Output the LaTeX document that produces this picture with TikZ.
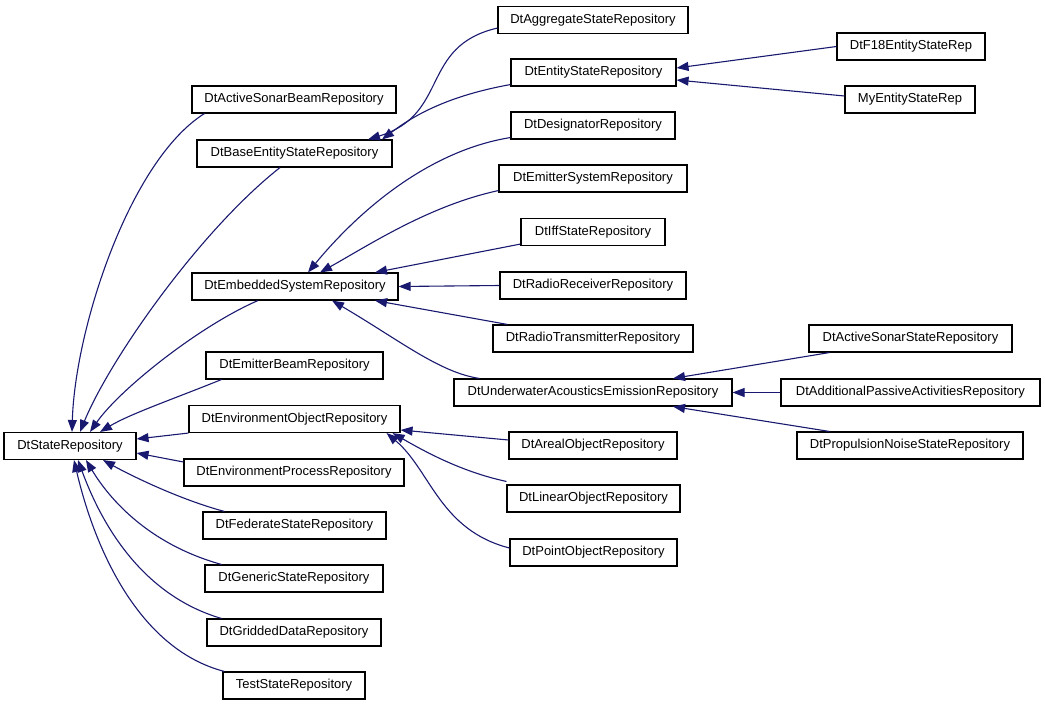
\documentclass[tikz,border=0pt]{standalone}
\usepackage{fontspec}
\setmainfont{Liberation Sans}
\usetikzlibrary{arrows.meta}
\definecolor{edgeblue}{HTML}{191970}

\begin{document}
\begin{tikzpicture}[x=1pt,y=-1pt,
	cls/.style={draw,rectangle,line width=1.1pt,minimum height=27pt,inner sep=1pt,
		font=\fontsize{13}{15}\selectfont},
	inh/.style={draw=edgeblue,line width=1.1pt,-{Triangle[length=12pt,width=9pt]},edgeblue}]
	\useasboundingbox (0,0) rectangle (1045,707);
	% base class
	\node[cls,minimum width=132pt] (dsr) at (70,446) {DtStateRepository};
	% second column
	\node[cls,minimum width=204pt] (asb) at (294,99.5) {DtActiveSonarBeamRepository};
	\node[cls,minimum width=195pt] (bes) at (294.5,153.5) {DtBaseEntityStateRepository};
	\node[cls,minimum width=206pt] (ems) at (295,286.5) {DtEmbeddedSystemRepository};
	\node[cls,minimum width=177pt] (emb) at (294.5,365.5) {DtEmitterBeamRepository};
	\node[cls,minimum width=211pt] (eor) at (294.5,419) {DtEnvironmentObjectRepository};
	\node[cls,minimum width=220pt] (epr) at (294,472.5) {DtEnvironmentProcessRepository};
	\node[cls,minimum width=183pt] (fsr) at (294.5,525.5) {DtFederateStateRepository};
	\node[cls,minimum width=178pt] (gsr) at (294,578.5) {DtGenericStateRepository};
	\node[cls,minimum width=174pt] (gdr) at (294,632.5) {DtGriddedDataRepository};
	\node[cls,minimum width=142pt] (tsr) at (294,685.5) {TestStateRepository};
	% third column
	\node[cls,minimum width=190pt] (agg) at (593,20) {DtAggregateStateRepository};
	\node[cls,minimum width=165pt] (esr) at (593.5,72.5) {DtEntityStateRepository};
	\node[cls,minimum width=164pt] (des) at (593,125.5) {DtDesignatorRepository};
	\node[cls,minimum width=188pt] (ess) at (593,178.5) {DtEmitterSystemRepository};
	\node[cls,minimum width=144pt] (iff) at (593,232) {DtIffStateRepository};
	\node[cls,minimum width=186pt] (rrr) at (593,285.5) {DtRadioReceiverRepository};
	\node[cls,minimum width=200pt] (rtr) at (593,338.5) {DtRadioTransmitterRepository};
	\node[cls,minimum width=278pt] (uae) at (593,392.5) {DtUnderwaterAcousticsEmissionRepository};
	\node[cls,minimum width=168pt] (aor) at (593,445.5) {DtArealObjectRepository};
	\node[cls,minimum width=173pt] (lor) at (593.5,498.5) {DtLinearObjectRepository};
	\node[cls,minimum width=167pt] (por) at (593.5,552.5) {DtPointObjectRepository};
	% fourth column
	\node[cls,minimum width=148pt] (f18) at (911,46.5) {DtF18EntityStateRep};
	\node[cls,minimum width=130pt] (mye) at (910,99.5) {MyEntityStateRep};
	\node[cls,minimum width=203pt] (ass) at (910.5,338.5) {DtActiveSonarStateRepository};
	\node[cls,minimum width=259pt] (apa) at (910.5,392.5) {DtAdditionalPassiveActivitiesRepository};
	\node[cls,minimum width=226pt] (pns) at (910,445.5) {DtPropulsionNoiseStateRepository};

	% into DtStateRepository
	\draw[inh] ([xshift=13pt]asb.south west) .. controls +(-75,47) and +(3,-103) .. ([xshift=2pt]dsr.north);
	\draw[inh] ([xshift=-14.5pt]bes.south) .. controls +(-80,63) and +(30,-73) .. ([xshift=10pt]dsr.north);
	\draw[inh] ([xshift=-37pt]ems.south) .. controls +(-58,25) and +(30,-43) .. ([xshift=20pt]dsr.north);
	\draw[inh] ([xshift=16pt]emb.south west) .. controls +(-47,19) and +(30,-18) .. ([xshift=30pt]dsr.north);
	\draw[inh] (eor.south west) -- ([yshift=7pt]dsr.east);
	\draw[inh] ([yshift=10.5pt]epr.west) -- ([yshift=-7pt]dsr.east);
	\draw[inh] ([xshift=22pt]fsr.north west) .. controls +(-45,-12) and +(27,15) .. ([xshift=33pt]dsr.south);
	\draw[inh] ([xshift=17pt]gsr.north west) .. controls +(-72,-20) and +(24,40) .. ([xshift=16pt]dsr.south);
	\draw[inh] ([xshift=15pt]gdr.north west) .. controls +(-82,-24) and +(22,60) .. ([xshift=8pt]dsr.south);
	\draw[inh] ([xshift=2pt]tsr.north west) .. controls +(-85,-22) and +(21,90) .. ([xshift=4pt]dsr.south);

	% into second column
	\draw[inh] ([yshift=6pt]agg.south west) .. controls +(-78,18) and +(82,-25) .. ([xshift=73.5pt]bes.north);
	\draw[inh] ([yshift=2pt]esr.south west) .. controls +(-61,11) and +(33,-25) .. ([xshift=87.5pt]bes.north);
	\draw[inh] ([yshift=2pt]des.south west) .. controls +(-81,13) and +(52,-63) .. ([xshift=13pt]ems.north);
	\draw[inh] ([yshift=2pt]ess.south west) .. controls +(-69,15) and +(50,-28) .. ([xshift=25pt]ems.north);
	\draw[inh] ([yshift=2pt]iff.south west) -- ([xshift=80pt]ems.north);
	\draw[inh] (rrr.west) -- (ems.east);
	\draw[inh] ([xshift=15pt]rtr.north west) -- ([xshift=80pt]ems.south);
	\draw[inh] ([xshift=26pt]uae.north west) .. controls +(-40,-6) and +(68,40) .. ([xshift=37pt]ems.south);
	\draw[inh] ([yshift=5.5pt]aor.west) -- ([yshift=-11pt]eor.east);
	\draw[inh] ([yshift=3pt]lor.north west) .. controls +(-47,-10) and +(28,16) .. ([xshift=-8pt]eor.south east);
	\draw[inh] ([yshift=4.5pt]por.west) .. controls +(-70,-18) and +(44,37) .. ([xshift=-14pt]eor.south east);

	% into third column
	\draw[inh] (f18.west) -- ([yshift=4.5pt]esr.east);
	\draw[inh] ([yshift=3.5pt]mye.west) -- ([yshift=-7.5pt]esr.east);
	\draw[inh] ([xshift=21pt]ass.south west) -- ([xshift=80pt]uae.north);
	\draw[inh] (apa.west) -- (uae.east);
	\draw[inh] ([xshift=33pt]pns.north west) -- ([xshift=80pt]uae.south);
\end{tikzpicture}
\end{document}
